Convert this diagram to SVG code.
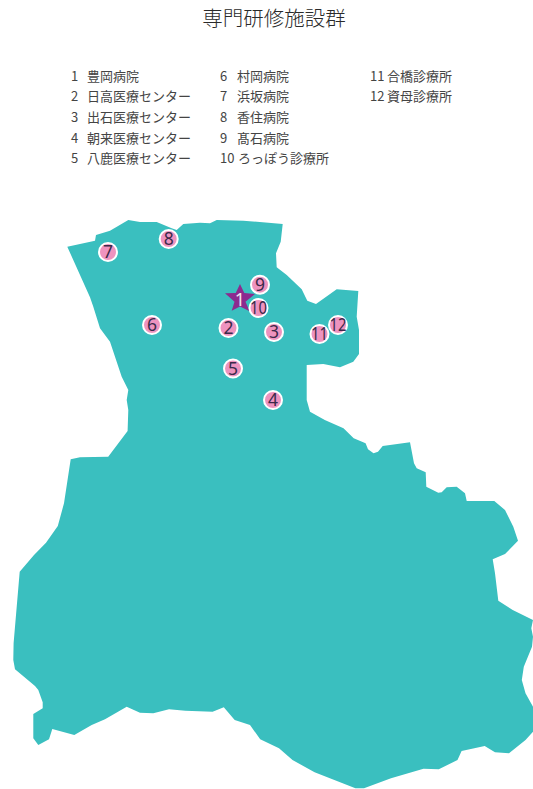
<svg xmlns="http://www.w3.org/2000/svg" width="533" height="789" viewBox="0 0 533 789">
<style>
text{font-family:"Noto Sans CJK JP","Noto Sans",sans-serif;fill:#3a3a3a}
.t{font-size:20.500px;font-weight:300;text-anchor:middle;fill:#2a2a2a}
.l{font-size:13px;font-weight:400;fill:#444}
.m circle{fill:#ee93bf;stroke:#fff;stroke-width:2}
.m text{font-family:"Noto Sans","Open Sans",sans-serif;font-size:17.500px;text-anchor:middle;fill:#3b2a4a}
</style>
<rect width="533" height="789" fill="#fff"/>
<path id="map" fill="#3abfbf" d="M67.3 246.700L95 240.700L96 235L110 230.700L128.300 220L140 222L156.700 222L171.700 228.300L176.700 230L183.300 224L200 222.700L210 223.300L216.700 220L243.300 220.700L282.700 224L280.700 241.700L276 253.300L276.700 267.300L286.700 275L301.700 289.300L307.300 300.700L316 304L336.700 289.300L358.300 291L356.700 316.700L359 330L359 354L353.300 361.700L340 367.300L323.300 364L306.700 365L306.700 400L310 411.700L324.800 420L343.500 428.300L353.700 438.300L365.600 443.300L368 449.300L373.500 453.300L378 451.700L382.700 446L410 442.300L414 463.300L416.700 468.300L425.700 472.300L426.300 486.700L438.300 492.700L441.700 492.300L446.700 487.300L456.700 486.700L465 493.300L466.700 501L494.300 501L505 510L513.300 526.700L518 540.700L505 554L492.700 559.300L495 573.300L498.300 600.700L512.700 610L533 620L531.300 628.300L533 636.700L532 646.700L523.800 666.700L521.800 680L525.500 693.300L533 706.700L533 731.700L525.500 740L509 753.300L495 752.300L484.700 746L461.600 751L457.500 760L438.800 769.300L423.500 768.700L391 778.300L364 788.300L355.400 788.300L314.600 772.300L292.500 760L279 748.300L260.200 739.300L250 725L234.700 720L223.800 707.300L212.600 711.700L185.400 710.700L169 709.300L153.300 713.300L140 712.700L126.700 706.700L105 719.300L91.700 725L74.300 735L52.300 729L49 739.300L38.300 745L33.300 738.300L33.300 714L42.700 708.300L42.700 702.300L38.300 690L35 686L15 669.300L13.300 660L13.600 643.300L19.700 571.700L34 555L46 542.700L57.800 526L64 503.300L70.700 459.300L80 457.300L108.200 456.700L127.600 431L128.300 410L126.700 400L128.300 390L121.700 376.700L110 341.700L100 328.300L93.300 306.700L90 297.300Z"/>
<text class="t" x="274" y="25.500">専門研修施設群</text>
<g id="legend">
<text class="l" x="71" y="80.500">1</text><text class="l" x="87" y="80.500">豊岡病院</text>
<text class="l" x="71" y="100.500">2</text><text class="l" x="87" y="100.500">日高医療センター</text>
<text class="l" x="71" y="121.500">3</text><text class="l" x="87" y="121.500">出石医療センター</text>
<text class="l" x="71" y="142.500">4</text><text class="l" x="87" y="142.500">朝来医療センター</text>
<text class="l" x="71" y="162.500">5</text><text class="l" x="87" y="162.500">八鹿医療センター</text>
<text class="l" x="220" y="80.500">6</text><text class="l" x="237" y="80.500">村岡病院</text>
<text class="l" x="220" y="100.500">7</text><text class="l" x="237" y="100.500">浜坂病院</text>
<text class="l" x="220" y="121.500">8</text><text class="l" x="237" y="121.500">香住病院</text>
<text class="l" x="220" y="142.500">9</text><text class="l" x="237" y="142.500">髙石病院</text>
<text class="l" x="220" y="162.500">10</text><text class="l" x="238" y="162.500">ろっぽう診療所</text>
<text class="l" x="370" y="80.500">11</text><text class="l" x="387" y="80.500">合橋診療所</text>
<text class="l" x="370" y="100.500">12</text><text class="l" x="387" y="100.500">資母診療所</text>
</g>
<g id="n1"><polygon fill="#8c2a8f" points="240,284 244.300,293 255,294 245.500,301.700 249.700,311.300 240,306.500 231.700,310.700 234.500,301.700 225,293.300 235.700,293"/><text x="240" y="306" style="font-family:'Noto Sans',sans-serif;font-size:18px;text-anchor:middle;fill:#f0e6f2">1</text></g>
<g id="n2" class="m"><circle cx="228.500" cy="328" r="9"/><text x="228.500" y="334.300">2</text></g>
<g id="n3" class="m"><circle cx="274" cy="332" r="9"/><text x="274" y="338.300">3</text></g>
<g id="n4" class="m"><circle cx="273" cy="400" r="9"/><text x="273" y="406.300">4</text></g>
<g id="n5" class="m"><circle cx="233" cy="368.500" r="9"/><text x="233" y="374.800">5</text></g>
<g id="n6" class="m"><circle cx="152" cy="325" r="9"/><text x="152" y="331.300">6</text></g>
<g id="n7" class="m"><circle cx="108" cy="252" r="9"/><text x="108" y="258.300">7</text></g>
<g id="n8" class="m"><circle cx="168.700" cy="239" r="9"/><text x="168.700" y="245.300">8</text></g>
<g id="n9" class="m"><circle cx="260" cy="284.700" r="9"/><text x="260" y="291">9</text></g>
<g id="n10" class="m"><circle cx="258.500" cy="308" r="9"/><text x="258.500" y="314.300" textLength="17" lengthAdjust="spacingAndGlyphs">10</text></g>
<g id="n11" class="m"><circle cx="319.500" cy="334" r="9"/><text x="319.500" y="340.300" textLength="17" lengthAdjust="spacingAndGlyphs">11</text></g>
<g id="n12" class="m"><circle cx="338" cy="325" r="9"/><text x="338" y="331.300" textLength="17" lengthAdjust="spacingAndGlyphs">12</text></g>
<g id="connectors"/>
</svg>
